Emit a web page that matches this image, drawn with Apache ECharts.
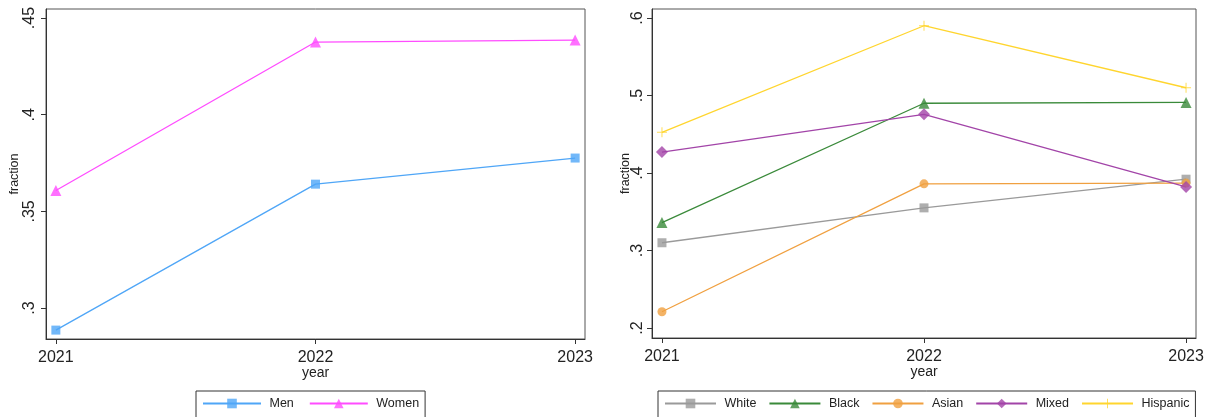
<!DOCTYPE html>
<html>
<head>
<meta charset="utf-8">
<script src="https://cdn.jsdelivr.net/npm/echarts@6/dist/echarts.min.js"></script>
<style>
  html, body { margin: 0; padding: 0; background: #fff; }
  #chart { width: 1211px; height: 417px; }
</style>
</head>
<body>
<div id="chart"></div>
<script>
// Survey years shown on both panels
const years = [2021, 2022, 2023];

// Left panel: fraction by sex
const men   = [0.2886, 0.3641, 0.3776];
const women = [0.3608, 0.4376, 0.4386];

// Right panel: fraction by ethnic group
const white    = [0.310, 0.355, 0.392];
const black    = [0.336, 0.490, 0.491];
const asian    = [0.221, 0.386, 0.387];
const mixed    = [0.427, 0.4757, 0.382];
const hispanic = [0.4525, 0.590, 0.510];

// Tick labels
const leftTicks  = [0.3, 0.35, 0.4, 0.45];
const rightTicks = [0.2, 0.3, 0.4, 0.5, 0.6];

const FONT = 'Liberation Sans, Arial, sans-serif';
const AXIS_COLOR = '#333';
const PLUS = 'path://M4.5,0h1v4.5h4.5v1h-4.5v4.5h-1v-4.5h-4.5v-1h4.5z';

const pairs = vals => years.map((y, i) => [y, vals[i]]);
const fracLabel = v => String(+v.toFixed(2)).replace(/^0/, '');

function xAxis(gridIndex) {
  return {
    type: 'value', gridIndex,
    min: 2020.962, max: 2023.038,
    name: 'year', nameLocation: 'middle', nameGap: 27, nameMoveOverlap: false,
    nameTextStyle: { fontFamily: FONT, fontSize: 14, color: '#222' },
    axisLine: { show: true, lineStyle: { color: AXIS_COLOR, width: 1 } },
    axisTick: { show: true, length: 5, customValues: years, lineStyle: { color: AXIS_COLOR } },
    axisLabel: { customValues: years, margin: 11, fontFamily: FONT, fontSize: 16, color: '#222',
                 formatter: v => String(Math.round(v)) },
    splitLine: { show: false }
  };
}

function yAxis(gridIndex, min, max, ticks, nameGap, margin, moveOverlap) {
  return {
    type: 'value', gridIndex, min, max,
    name: 'fraction', nameLocation: 'middle', nameGap, nameMoveOverlap: moveOverlap,
    nameTextStyle: { fontFamily: FONT, fontSize: 12.5, color: '#222' },
    axisLine: { show: true, lineStyle: { color: AXIS_COLOR, width: 1 } },
    axisTick: { show: true, length: 5, customValues: ticks, lineStyle: { color: AXIS_COLOR } },
    axisLabel: { customValues: ticks, rotate: 90, margin, fontFamily: FONT, fontSize: 16, color: '#222',
                 formatter: fracLabel },
    splitLine: { show: false }
  };
}

function line(name, vals, color, symbol, size, axisIdx) {
  return {
    type: 'line', name, data: pairs(vals),
    xAxisIndex: axisIdx, yAxisIndex: axisIdx,
    symbol, symbolSize: size, showSymbol: true,
    lineStyle: { color, width: 1.3 },
    itemStyle: { color, opacity: 0.8 },
    emphasis: { disabled: true },
    clip: false
  };
}

function legend(names, left, itemWidth, itemGap) {
  return {
    data: names, left, top: 391, orient: 'horizontal',
    itemWidth, itemHeight: 12, itemGap,
    padding: [6, 6, 12, 6],
    borderColor: '#333', borderWidth: 1, borderRadius: 0,
    formatter: n => ' ' + n,
    textStyle: { fontFamily: FONT, fontSize: 12.5, color: '#222' }
  };
}

const chart = echarts.init(document.getElementById('chart'), null, { renderer: 'canvas' });
chart.setOption({
  backgroundColor: '#fff',
  animation: false,
  grid: [
    { left: 46, top: 9, width: 539, height: 330, show: true, borderColor: '#555', borderWidth: 1, backgroundColor: '#fff' },
    { left: 652, top: 9, width: 544, height: 329, show: true, borderColor: '#555', borderWidth: 1, backgroundColor: '#fff' }
  ],
  xAxis: [xAxis(0), xAxis(1)],
  yAxis: [
    yAxis(0, 0.284, 0.4547, leftTicks, 19, 8, true),
    yAxis(1, 0.1871, 0.6116, rightTicks, 20, 6, false)
  ],
  legend: [
    legend(['Men', 'Women'], 196, 58, 15),
    legend(['White', 'Black', 'Asian', 'Mixed', 'Hispanic'], 658, 51, 12)
  ],
  series: [
    line('Men', men, '#4fa6f7', 'rect', 9, 0),
    line('Women', women, '#ff4cff', 'triangle', 11, 0),
    line('White', white, '#9a9a9a', 'rect', 9, 1),
    line('Black', black, '#3a8a3a', 'triangle', 11, 1),
    line('Asian', asian, '#f0a040', 'circle', 9, 1),
    line('Mixed', mixed, '#a244a8', 'diamond', 12, 1),
    line('Hispanic', hispanic, '#ffd52e', PLUS, 10, 1)
  ]
});
</script>
</body>
</html>
